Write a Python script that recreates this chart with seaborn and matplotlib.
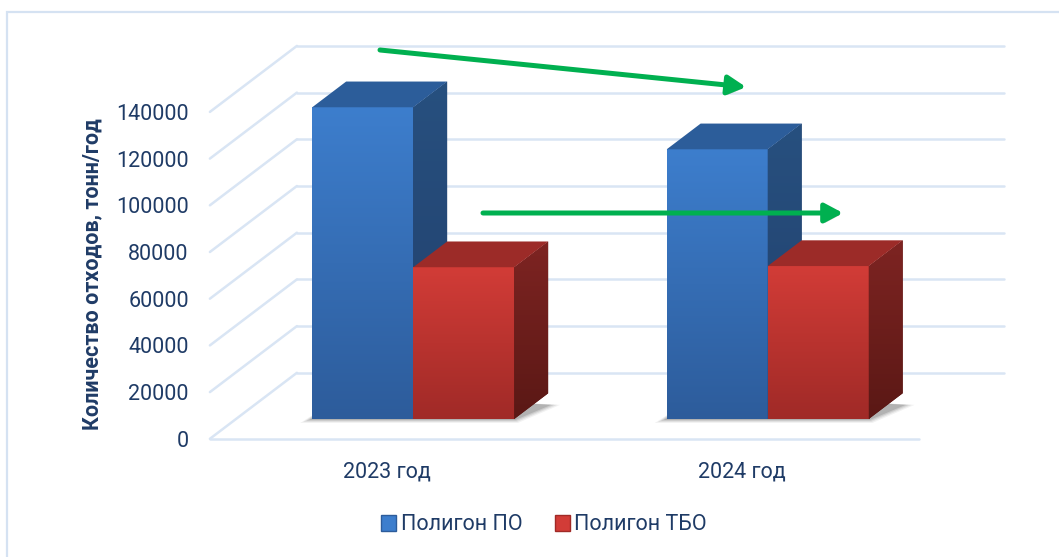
import numpy as np
import pandas as pd
import matplotlib
matplotlib.use("Agg")
import matplotlib.pyplot as plt
import seaborn as sns
from matplotlib.patches import Polygon, Patch, Rectangle, FancyArrowPatch
from matplotlib.transforms import ScaledTranslation
from matplotlib.colors import LinearSegmentedColormap
import matplotlib.patheffects as pe

# ---- data -------------------------------------------------------------
years = ["2023 год", "2024 год"]
series = ["Полигон ПО", "Полигон ТБО"]
po_values = [133500, 115500]      # Полигон ПО, тонн/год
tbo_values = [65000, 65500]       # Полигон ТБО, тонн/год
y_ticks = [0, 20000, 40000, 60000, 80000, 100000, 120000, 140000]
y_title = "Количество отходов, тонн/год"

df = pd.DataFrame({
    "Год": years * 2,
    "Объект": [series[0]] * len(years) + [series[1]] * len(years),
    "Тонн": po_values + tbo_values,
})

# ---- style ------------------------------------------------------------
sns.set_style("white")
plt.rcParams["font.family"] = ["Roboto", "DejaVu Sans"]
TEXT = "#1f3b66"
GRID = "#d9e5f4"

# face colours: (front top, front bottom, side top, side bottom, top face)
FACES = {
    series[0]: ("#3d7ecd", "#2d5c9b", "#27507f", "#223f6c", "#2c5d9a"),
    series[1]: ("#d23c37", "#a02a27", "#7e2422", "#5a1815", "#9c2b28"),
}

W, H, DPI = 1059, 557, 100
fig = plt.figure(figsize=(W / DPI, H / DPI), dpi=DPI)

# axes = the vertical plane holding the front faces of the columns
PX_PER_STEP = 46.7                      # pixels per 20000
AX_L, AX_R, AX_B = 236, 945, 419
YMAX = 160000
ax_h = PX_PER_STEP * YMAX / 20000
ax = fig.add_axes([AX_L / W, (H - AX_B) / H, (AX_R - AX_L) / W, ax_h / H])
ax.patch.set_alpha(0)

sns.barplot(data=df, x="Год", y="Тонн", hue="Объект", hue_order=series,
            palette=[FACES[s][0] for s in series], width=0.57, saturation=1,
            linewidth=0, edgecolor="none", legend=False, ax=ax)

XMIN, XMAX = -0.5, len(years) - 0.5
ax.set_xlim(XMIN, XMAX)
ax.set_ylim(0, YMAX)
sx = (XMAX - XMIN) / (AX_R - AX_L)      # data units per pixel (x)
sy = YMAX / ax_h                        # data units per pixel (y)

# oblique depth of the floor: full depth, the columns' plane and their thickness
DEPTH_DX, DEPTH_DY = 87, 66
F_FRONT, F_BAR = 0.30, 0.39
fdx, fdy = -F_FRONT * DEPTH_DX * sx, -F_FRONT * DEPTH_DY * sy
bkdx, bkdy = (1 - F_FRONT) * DEPTH_DX * sx, (1 - F_FRONT) * DEPTH_DY * sy
bdx, bdy = F_BAR * DEPTH_DX * sx, F_BAR * DEPTH_DY * sy

# ---- walls and floor --------------------------------------------------
for v in y_ticks:
    ax.plot([XMIN + bkdx, XMAX + bkdx - 0.006], [v + bkdy, v + bkdy],
            color=GRID, lw=1.8, clip_on=False, zorder=0.5)
    ax.plot([XMIN + fdx, XMIN + bkdx], [v + fdy, v + bkdy],
            color=GRID, lw=1.8, clip_on=False, zorder=0.5)
ax.plot([XMIN + fdx, XMAX + fdx], [fdy, fdy], color=GRID, lw=1.8,
        clip_on=False, zorder=0.5)

# ---- 3D columns -------------------------------------------------------
grad = np.linspace(1, 0, 256)[:, None]
bars = list(ax.patches)
n = len(years)
for i, bar in enumerate(bars):
    s = series[i // n]
    ftop, fbot, stop, sbot, tcol = FACES[s]
    z = 2 + i // n
    x0, w, h = bar.get_x(), bar.get_width(), bar.get_height()
    x1 = x0 + w
    bar.set_zorder(z)
    bar.set_clip_on(False)

    cm_front = LinearSegmentedColormap.from_list("f", [fbot, ftop])
    im = ax.imshow(grad, cmap=cm_front, extent=[x0, x1, 0, h], aspect="auto",
                   interpolation="bilinear", zorder=z + 0.01)
    im.set_clip_path(bar)

    side = Polygon([(x1, 0), (x1 + bdx, bdy), (x1 + bdx, h + bdy), (x1, h)],
                   closed=True, facecolor=sbot, edgecolor="none",
                   zorder=z + 0.02, clip_on=False)
    ax.add_patch(side)
    cm_side = LinearSegmentedColormap.from_list("s", [sbot, stop])
    ims = ax.imshow(grad, cmap=cm_side, extent=[x1, x1 + bdx, 0, h + bdy],
                    aspect="auto", interpolation="bilinear", zorder=z + 0.03)
    ims.set_clip_path(side)

    top = Polygon([(x0, h), (x1, h), (x1 + bdx, h + bdy), (x0 + bdx, h + bdy)],
                  closed=True, facecolor=tcol, edgecolor="none",
                  zorder=z + 0.04, clip_on=False)
    ax.add_patch(top)

# soft floor shadow under each group of columns
for j in range(n):
    g = [bars[j], bars[j + n]]
    gx0 = g[0].get_x()
    gx1 = g[1].get_x() + g[1].get_width()
    for k, a in enumerate([0.05, 0.07, 0.09, 0.12]):
        e = (12 - 3 * k) * sx
        ey = (4 - k) * sy
        sh = Polygon([(gx0 - e, -ey), (gx1 + e * 0.3, -ey),
                      (gx1 + bdx + e, bdy * 0.55), (gx0 + bdx, bdy)],
                     closed=True, facecolor="black", alpha=a,
                     edgecolor="none", zorder=1.5, clip_on=False)
        ax.add_patch(sh)

ax.set_xlim(XMIN, XMAX)
ax.set_ylim(0, YMAX)

# ---- axes text --------------------------------------------------------
sns.despine(ax=ax, left=True, bottom=True)
ax.set_yticks(y_ticks)
ax.set_yticklabels([str(v) for v in y_ticks])
ax.tick_params(axis="y", length=0, pad=34, labelsize=15.5, labelcolor=TEXT)
ax.tick_params(axis="x", length=0, pad=16, labelsize=15.5, labelcolor=TEXT)
ax.set_xlabel("")
ax.set_ylabel("")
front_shift = ScaledTranslation(fdx / sx / DPI, fdy / sy / DPI, fig.dpi_scale_trans)
for lab in ax.get_yticklabels():
    lab.set_transform(lab.get_transform() + ScaledTranslation(0, fdy / sy / DPI, fig.dpi_scale_trans))
for lab in ax.get_xticklabels():
    lab.set_transform(lab.get_transform() + front_shift)

fig.text(92 / W, 1 - 274 / H, y_title, rotation=90, ha="center", va="center",
         fontsize=15.5, fontweight="bold", color=TEXT)

# ---- legend -----------------------------------------------------------
handles = [Patch(facecolor=FACES[s][0], edgecolor=FACES[s][1], label=s) for s in series]
fig.legend(handles=handles, loc="center", bbox_to_anchor=(544 / W, 1 - 525 / H),
           ncol=2, frameon=False, fontsize=15.5, handlelength=0.7,
           handleheight=0.7, handletextpad=0.2, columnspacing=1.5,
           labelcolor=TEXT)

# ---- trend arrows -----------------------------------------------------
GREEN = "#00b050"
arrows = [((380, 50), (746, 87)), ((483, 213), (843, 213))]
for (tx, ty), (hx, hy) in arrows:
    arr = FancyArrowPatch((tx, H - ty), (hx, H - hy), transform=None,
                          arrowstyle="-|>,head_length=0.6,head_width=0.32",
                          mutation_scale=18, lw=3.6, color=GREEN,
                          shrinkA=0, shrinkB=0, zorder=10)
    arr.set_path_effects([pe.SimplePatchShadow(offset=(1.5, -1.5), alpha=0.25),
                          pe.Normal()])
    fig.patches.append(arr)

# ---- chart-area frame -------------------------------------------------
fig.patches.append(Rectangle((7 / W, -0.05), 1.0, (H - 12) / H + 0.05,
                             transform=fig.transFigure, fill=False,
                             edgecolor="#d5e2f2", lw=1.6))

fig.savefig("out.png", dpi=DPI)
